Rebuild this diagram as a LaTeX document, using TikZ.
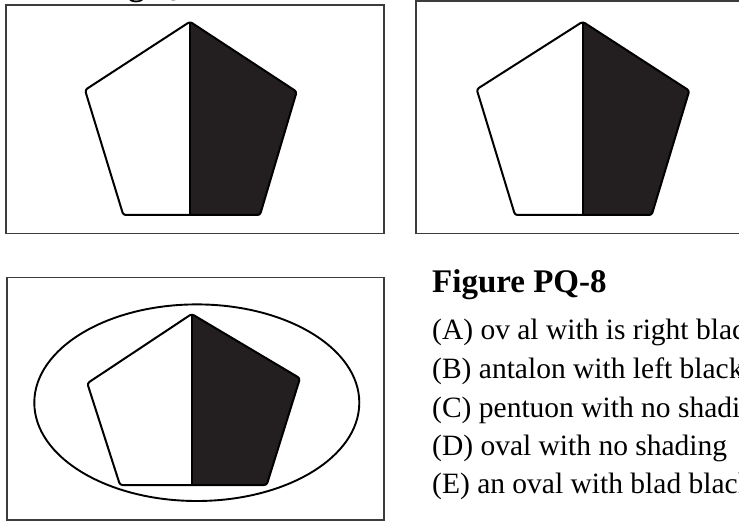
\documentclass[tikz,border=0pt]{standalone}
\usepackage{fontspec}
\setmainfont{Liberation Serif}
\definecolor{framegray}{HTML}{3C3C3C}
\definecolor{pentblack}{HTML}{231F20}
\begin{document}
\begin{tikzpicture}[x=1pt,y=-1pt,
  frame/.style={draw=framegray,line width=1.6pt},
  pent/.style={draw=black,line width=2pt,rounded corners=2.5pt,line join=round},
  halfblack/.style={fill=pentblack,rounded corners=2.5pt},
  divider/.style={draw=black,line width=2pt},
  oval/.style={draw=black,line width=1.9pt},
  head/.style={anchor=base west,inner sep=0pt,font=\fontsize{33}{36}\selectfont\bfseries},
  item/.style={anchor=base west,inner sep=0pt,font=\fontsize{29.5}{32}\selectfont}]
\useasboundingbox (0,0) rectangle (739,521);
\clip (0,0) rectangle (739,521);
\fill[white] (0,0) rectangle (739,521);

% frames
\draw[frame] (6,5) rectangle (384,233.5);
\draw[frame] (416,1) rectangle (760,233.5);
\draw[frame] (7,277.7) rectangle (384,520);

% top-left pentagon
\coordinate (aT) at (190,21.7);
\coordinate (aUR) at (296.7,91.7);
\coordinate (aLR) at (260,215);
\coordinate (aLL) at (123.3,215);
\coordinate (aUL) at (85,90);
\coordinate (aB) at (190,215);
\fill[halfblack] (aT) -- (aUR) -- (aLR) -- (aB) -- cycle;
\draw[pent] (aT) -- (aUR) -- (aLR) -- (aLL) -- (aUL) -- cycle;
\draw[divider] (aT) -- (aB);

% top-right pentagon
\coordinate (bT) at (582.7,21.7);
\coordinate (bUR) at (689.3,90.7);
\coordinate (bLR) at (651.7,215);
\coordinate (bLL) at (515,215);
\coordinate (bUL) at (476.7,89.3);
\coordinate (bB) at (582.7,215);
\fill[halfblack] (bT) -- (bUR) -- (bLR) -- (bB) -- cycle;
\draw[pent] (bT) -- (bUR) -- (bLR) -- (bLL) -- (bUL) -- cycle;
\draw[divider] (bT) -- (bB);

% bottom-left: oval with pentagon
\coordinate (cC) at (196.8,402.7);
\draw[oval] (cC) ellipse [x radius=162.5pt, y radius=98.3pt];
\coordinate (cT) at (191.7,314);
\coordinate (cUR) at (300,378.3);
\coordinate (cLR) at (266.7,485);
\coordinate (cLL) at (120,485);
\coordinate (cUL) at (87.3,383.3);
\coordinate (cB) at (191.7,485);
\fill[halfblack] (cT) -- (cUR) -- (cLR) -- (cB) -- cycle;
\draw[pent] (cT) -- (cUR) -- (cLR) -- (cLL) -- (cUL) -- cycle;
\draw[divider] (cT) -- (cB);

% texts
\node[head] (toptitle) at (64,-4) {Using Q};
\node[head] (title) at (432,293) {Figure PQ-8};
\node[item] (optA) at (432,340) {(A) ov al with is right black};
\node[item] (optB) at (432,378) {(B) antalon with left black};
\node[item] (optC) at (432,417) {(C) pentuon with no shading};
\node[item] (optD) at (432,455) {(D) oval with no shading};
\node[item] (optE) at (432,493) {(E) an oval with blad black};
\end{tikzpicture}
\end{document}
